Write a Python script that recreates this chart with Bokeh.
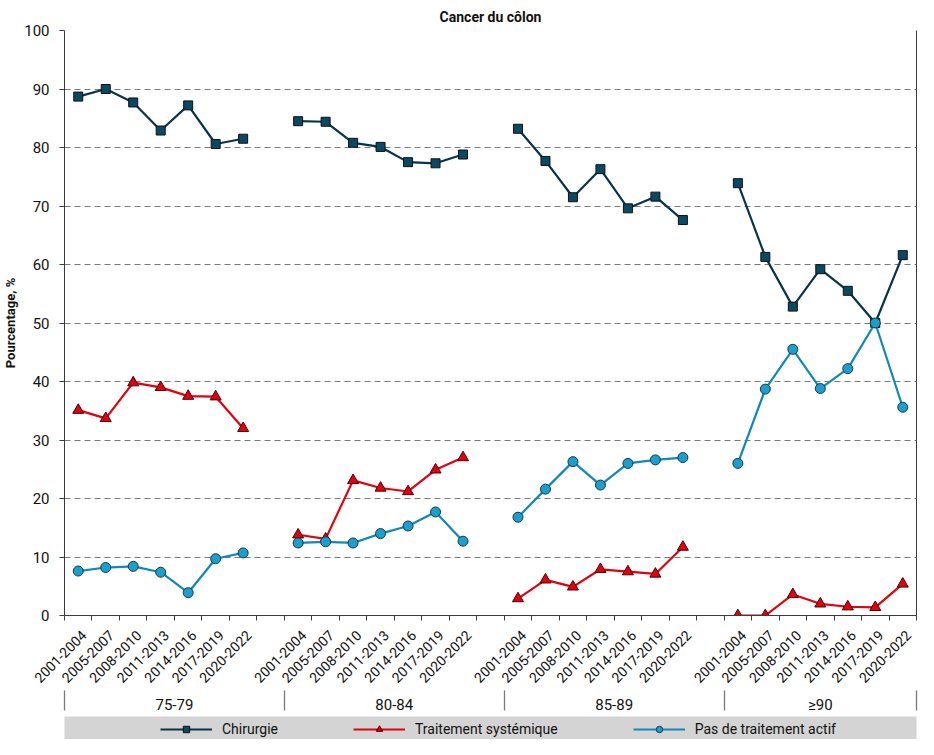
import math
from bokeh.plotting import figure
from bokeh.models import FixedTicker, LinearAxis, Range1d, Legend, LegendItem
from bokeh.layouts import column
from bokeh.embed import file_html
from bokeh.resources import INLINE

# ---------------- data ----------------
age_groups = ["75-79", "80-84", "85-89", "≥90"]
periods = ["2001-2004", "2005-2007", "2008-2010", "2011-2013",
           "2014-2016", "2017-2019", "2020-2022"]

chirurgie = [
    [88.7, 90.0, 87.7, 82.9, 87.2, 80.6, 81.5],
    [84.5, 84.4, 80.8, 80.1, 77.5, 77.3, 78.8],
    [83.2, 77.7, 71.5, 76.3, 69.6, 71.6, 67.6],
    [73.9, 61.3, 52.8, 59.2, 55.5, 50.0, 61.6],
]
traitement_systemique = [
    [35.1, 33.7, 39.8, 39.0, 37.5, 37.4, 32.0],
    [13.8, 13.1, 23.1, 21.8, 21.2, 24.9, 27.0],
    [2.9, 6.1, 4.9, 7.9, 7.5, 7.1, 11.7],
    [0.0, 0.0, 3.6, 2.0, 1.5, 1.4, 5.4],
]
pas_de_traitement = [
    [7.6, 8.2, 8.4, 7.4, 3.9, 9.7, 10.7],
    [12.4, 12.6, 12.4, 14.0, 15.3, 17.7, 12.7],
    [16.8, 21.6, 26.3, 22.3, 26.0, 26.6, 27.0],
    [26.0, 38.7, 45.5, 38.8, 42.2, 50.0, 35.6],
]
series_names = ["Chirurgie", "Traitement systémique", "Pas de traitement actif"]
y_ticks = list(range(0, 101, 10))

# ---------------- styling ----------------
FONT = "Roboto"
AXIS_COLOR = "#3a3a3a"
styles = [
    dict(line="#08344a", fill="#0a4966", edge="#111111", marker="square", size=9),
    dict(line="#e3000f", fill="#e3000f", edge="#4a0000", marker="triangle", size=11),
    dict(line="#1088b8", fill="#18a0cf", edge="#1f3444", marker="circle", size=10),
]

slots_per_group = len(periods) + 1
n_slots = len(age_groups) * slots_per_group - 1

p = figure(width=918, height=716,
           x_range=Range1d(0, n_slots), y_range=Range1d(0, 100),
           output_backend="svg", toolbar_location=None,
           x_axis_location=None, y_axis_location="left",
           min_border_left=64, min_border_right=2,
           min_border_top=30, min_border_bottom=0,
           outline_line_color=None)
for gr in p.grid:
    if gr.dimension == 0:
        gr.visible = False

p.title.text = "Cancer du côlon"
p.title.align = "center"
p.title.offset = 8
p.title.text_font = FONT
p.title.text_font_style = "bold"
p.title.text_font_size = "14px"
p.title.text_color = "#111111"
p.title.standoff = 12

# y axis
yt = FixedTicker(ticks=y_ticks)
ya = p.yaxis[0]
ya.ticker = yt
ya.major_tick_out = 5
ya.major_tick_in = 0
ya.minor_tick_line_color = None
ya.axis_line_color = AXIS_COLOR
ya.major_tick_line_color = AXIS_COLOR
ya.major_label_text_font = FONT
ya.major_label_text_font_size = "15px"
ya.major_label_text_color = "#111111"
ya.major_label_standoff = 10
ya.axis_label = "Pourcentage, %"
ya.axis_label_text_font = FONT
ya.axis_label_text_font_style = "bold"
ya.axis_label_text_font_size = "13px"
ya.axis_label_text_color = "#111111"
ya.axis_label_standoff = 3

p.ygrid.ticker = yt
p.ygrid.grid_line_color = "#7a7a7a"
p.ygrid.grid_line_dash = "6 4"
p.ygrid.grid_line_width = 1.2

# period axis (below)
label_ticks, labels = [], {}
for g in range(len(age_groups)):
    for j, per in enumerate(periods):
        c = g * slots_per_group + j + 0.5 + 0.2
        label_ticks.append(c)
        labels[c] = per
boundaries = list(range(0, n_slots + 1))
period_axis = LinearAxis(
    ticker=FixedTicker(ticks=label_ticks, minor_ticks=boundaries),
    major_label_overrides=labels,
    major_tick_line_color=None, major_tick_out=0, major_tick_in=0,
    minor_tick_out=5, minor_tick_in=0, minor_tick_line_color=AXIS_COLOR,
    axis_line_color=AXIS_COLOR,
    major_label_orientation=math.pi / 4, major_label_standoff=12,
    major_label_text_font=FONT, major_label_text_font_size="14px",
    major_label_text_color="#111111")
p.add_layout(period_axis, "below")

# age group axis (below)
g_bounds = [g * slots_per_group for g in range(len(age_groups))] + [n_slots]
g_centers = [(g_bounds[i] + g_bounds[i + 1]) / 2 for i in range(len(age_groups))]
group_axis = LinearAxis(
    ticker=FixedTicker(ticks=g_centers, minor_ticks=g_bounds),
    major_label_overrides={c: a for c, a in zip(g_centers, age_groups)},
    axis_line_color=None, major_tick_line_color=None, major_tick_out=0, major_tick_in=0,
    minor_tick_out=20, minor_tick_in=0, minor_tick_line_color="#7a7a7a",
    minor_tick_line_width=1.3,
    major_label_standoff=-15,
    major_label_text_font=FONT, major_label_text_font_size="15px",
    major_label_text_color="#111111")
p.add_layout(group_axis, "below")

# right border line
right_axis = LinearAxis(ticker=FixedTicker(ticks=[]), major_tick_out=0, major_tick_in=0,
                        major_tick_line_color=None, minor_tick_line_color=None,
                        major_label_text_font_size="0px", axis_line_color=AXIS_COLOR)
p.add_layout(right_axis, "right")

all_series = [chirurgie, traitement_systemique, pas_de_traitement]
for data, st in zip(all_series, styles):
    for g, vals in enumerate(data):
        xs = [g * slots_per_group + j + 0.5 for j in range(len(vals))]
        p.line(xs, vals, line_color=st["line"], line_width=2.2)
        p.scatter(xs, vals, marker=st["marker"], size=st["size"],
                  fill_color=st["fill"], line_color=st["edge"], line_width=1)

# ---------------- legend strip ----------------
lg = figure(width=918, height=23, x_range=Range1d(0, 1), y_range=Range1d(0, 1),
            x_axis_type=None, y_axis_type=None,
            output_backend="svg", toolbar_location=None,
            min_border_left=64, min_border_right=2, min_border_top=0, min_border_bottom=0,
            background_fill_color="#d4d4d4", outline_line_color=None)
for gr in lg.grid:
    gr.visible = False
items = []
for name, st in zip(series_names, styles):
    r1 = lg.line(x=[-10, -9], y=[-10, -10], line_color=st["line"], line_width=2.2)
    r2 = lg.scatter(x=[-10], y=[-10], marker=st["marker"], size=st["size"],
                    fill_color=st["fill"], line_color=st["edge"], line_width=1)
    items.append(LegendItem(label=name, renderers=[r1, r2]))
legend = Legend(items=items, orientation="horizontal", location=(96, 2),
                glyph_width=52, glyph_height=16, label_standoff=10,
                spacing=75, label_width=55, padding=0, margin=0,
                background_fill_alpha=0, border_line_color=None,
                label_text_font=FONT, label_text_font_size="14px",
                label_text_color="#111111")
lg.add_layout(legend)

layout = column(p, lg)
open("out.html", "w").write(file_html(layout, INLINE))
